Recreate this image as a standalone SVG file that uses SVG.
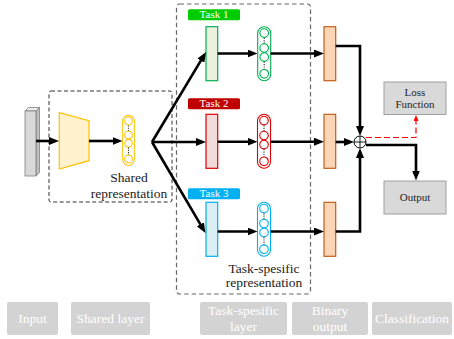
<svg xmlns="http://www.w3.org/2000/svg" width="454" height="339" viewBox="0 0 454 339" font-family="'Liberation Serif', 'Times New Roman', serif">
<style>
.lbl{font-family:'Liberation Serif','Times New Roman',serif;font-size:13.5px;fill:#222;text-anchor:middle;}
.tl{font-family:'Liberation Serif','Times New Roman',serif;font-size:11px;fill:#fff;text-anchor:middle;}
.bx{font-family:'Liberation Serif','Times New Roman',serif;font-size:11px;fill:#222;text-anchor:middle;}
.lg{font-family:'Liberation Serif','Times New Roman',serif;font-size:13.5px;fill:#fff;text-anchor:middle;}
.ln{fill:none;stroke:#000;stroke-width:2.6;}
.gbox{fill:#d9d9d9;stroke:#a0a0a0;stroke-width:1;}
.leg{fill:#d3d3d3;}
.bin{fill:#fbd5b5;stroke:#c0601a;stroke-width:1.2;}
</style>
<defs>
<marker id="ah" viewBox="0 0 10 8" refX="5.5" refY="4" markerWidth="10" markerHeight="8" markerUnits="userSpaceOnUse" orient="auto"><path d="M0,0 L10,4 L0,8 z" fill="#000"/></marker>
<marker id="ahr" viewBox="0 0 6 5" refX="3" refY="2.5" markerWidth="6" markerHeight="5" markerUnits="userSpaceOnUse" orient="auto"><path d="M0,0 L6,2.5 L0,5 z" fill="#ff0000"/></marker>
<g id="pill" fill="none" stroke="currentColor" stroke-width="1.1">
<rect x="-6.5" y="-27" width="13" height="54" rx="6.5"/>
<circle cx="0" cy="-20.7" r="4.3"/>
<circle cx="0" cy="-5.7" r="4.3"/>
<circle cx="0" cy="3.3" r="4.3"/>
<circle cx="0" cy="20" r="4.3"/>
<line x1="0" y1="-16" x2="0" y2="-10.2" stroke="#333" stroke-dasharray="1.2,1.2"/>
<line x1="0" y1="7.8" x2="0" y2="15.5" stroke="#333" stroke-dasharray="1.2,1.2"/>
</g>
</defs>

<!-- dashed region boxes -->
<rect x="49" y="91" width="123" height="111" rx="2" fill="none" stroke="#333" stroke-width="1" stroke-dasharray="4,2.5"/>
<rect x="176.5" y="4" width="134" height="290" rx="3" fill="none" stroke="#666" stroke-width="1.2" stroke-dasharray="4.5,3"/>

<g id="input">
<polygon points="25,111 28.5,107.5 39.5,107.5 36,111" fill="#ececec" stroke="#7f7f7f" stroke-width="0.8"/>
<polygon points="36,111 39.5,107.5 39.5,172.5 36,176" fill="#bfbfbf" stroke="#7f7f7f" stroke-width="0.8"/>
<rect x="25" y="111" width="11" height="65" fill="#d9d9d9" stroke="#7f7f7f" stroke-width="0.8"/>
</g>

<g id="shared-layer">
<polygon points="59.3,112.7 89,120.7 89,160.7 59.3,169" fill="#fff2cc" stroke="#ffc000" stroke-width="1.2"/>
</g>

<g id="shared-representation">
<use href="#pill" transform="translate(128.5,140.3) scale(0.9,0.93)" color="#ffc000"/>
<text class="lbl" x="129" y="182">Shared</text>
<text class="lbl" x="129" y="197.5">representation</text>
</g>

<g id="task1">
<rect x="188" y="9.3" width="52" height="11" rx="1.5" fill="#00cc00"/>
<text class="tl" x="214" y="18.3">Task 1</text>
<rect x="206" y="26.7" width="11.7" height="54" fill="#ebf1de" stroke="#00b050" stroke-width="1.2"/>
<use href="#pill" transform="translate(264.2,53.8)" color="#00b050"/>
</g>

<g id="task2">
<rect x="188" y="98.3" width="52" height="11" rx="1.5" fill="#c00000"/>
<text class="tl" x="214" y="107.3">Task 2</text>
<rect x="206" y="114.3" width="11.7" height="54" fill="#f2dcdb" stroke="#e00000" stroke-width="1.2"/>
<use href="#pill" transform="translate(264,141.3)" color="#e00000"/>
</g>

<g id="task3">
<rect x="188" y="188.3" width="52" height="11" rx="1.5" fill="#00b0f0"/>
<text class="tl" x="214" y="197.3">Task 3</text>
<rect x="206" y="202.3" width="11.7" height="54" fill="#dbeef4" stroke="#00b0f0" stroke-width="1.2"/>
<use href="#pill" transform="translate(264,229.2)" color="#00b0f0"/>
</g>

<g id="task-specific-label">
<text class="lbl" x="264" y="272.5">Task-spesific</text>
<text class="lbl" x="264" y="286.5">representation</text>
</g>

<g id="binary1"><rect class="bin" x="324" y="26.7" width="11.7" height="54"/></g>
<g id="binary2"><rect class="bin" x="324" y="114.3" width="11.7" height="54"/></g>
<g id="binary3"><rect class="bin" x="324" y="202.3" width="11.7" height="54"/></g>

<g id="sum">
<circle cx="360" cy="142" r="6" fill="#fff" stroke="#000" stroke-width="1"/>
<line x1="354" y1="142" x2="366" y2="142" stroke="#000" stroke-width="0.9"/>
<line x1="360" y1="136" x2="360" y2="148" stroke="#000" stroke-width="0.9"/>
</g>

<g id="loss">
<rect class="gbox" x="384" y="82" width="62" height="32.5"/>
<text class="bx" x="415" y="95.5">Loss</text>
<text class="bx" x="415" y="108">Function</text>
</g>

<g id="output">
<rect class="gbox" x="384" y="181" width="62" height="33"/>
<text class="bx" x="415" y="201">Output</text>
</g>

<g id="connectors">
<line class="ln" x1="36" y1="141" x2="54.5" y2="141" marker-end="url(#ah)"/>
<line class="ln" x1="89" y1="141" x2="118" y2="141" marker-end="url(#ah)"/>
<line class="ln" x1="152" y1="142" x2="203.7" y2="55.9" marker-end="url(#ah)"/>
<line class="ln" x1="152" y1="142" x2="201.5" y2="142" marker-end="url(#ah)"/>
<line class="ln" x1="152" y1="142" x2="203.2" y2="229.1" marker-end="url(#ah)"/>
<line class="ln" x1="217.7" y1="53.5" x2="253" y2="53.5" marker-end="url(#ah)"/>
<line class="ln" x1="217.7" y1="141.7" x2="253" y2="141.7" marker-end="url(#ah)"/>
<line class="ln" x1="217.7" y1="231.5" x2="253" y2="231.5" marker-end="url(#ah)"/>
<line class="ln" x1="270.7" y1="53.5" x2="319.5" y2="53.5" marker-end="url(#ah)"/>
<line class="ln" x1="270.7" y1="141.7" x2="319.5" y2="141.7" marker-end="url(#ah)"/>
<line class="ln" x1="270.7" y1="231.5" x2="319.5" y2="231.5" marker-end="url(#ah)"/>
<path class="ln" d="M335.7,46 H360 V131.5" marker-end="url(#ah)"/>
<line class="ln" x1="335.7" y1="142" x2="349.5" y2="142" marker-end="url(#ah)"/>
<path class="ln" d="M335.7,231.5 H360 V152.5" marker-end="url(#ah)"/>
<path class="ln" d="M366,145 H416 V176" marker-end="url(#ah)"/>
<path d="M366,137.5 H416 V118" fill="none" stroke="#ff0000" stroke-width="1.2" stroke-dasharray="6,3" marker-end="url(#ahr)"/>
</g>

<g id="legend">
<rect class="leg" x="7" y="302" width="51" height="33" rx="2"/>
<text class="lg" x="32.5" y="323">Input</text>
<rect class="leg" x="71" y="302" width="79" height="33" rx="2"/>
<text class="lg" x="110.5" y="323">Shared layer</text>
<rect class="leg" x="200" y="302" width="87" height="33" rx="2"/>
<text class="lg" x="243.5" y="315">Task-spesific</text>
<text class="lg" x="243.5" y="331">layer</text>
<rect class="leg" x="292" y="302" width="76" height="33" rx="2"/>
<text class="lg" x="330" y="315">Binary</text>
<text class="lg" x="330" y="331">output</text>
<rect class="leg" x="372" y="302" width="80" height="33" rx="2"/>
<text class="lg" x="412" y="323">Classification</text>
</g>
</svg>
